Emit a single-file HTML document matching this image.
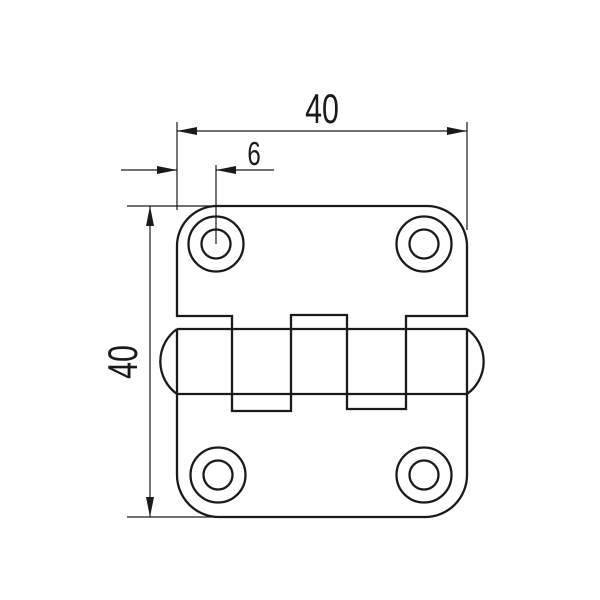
<!DOCTYPE html>
<html><head><meta charset="utf-8"><style>
html,body{margin:0;padding:0;background:#fff;width:600px;height:600px;overflow:hidden}
svg{display:block}
text{font-family:"Liberation Sans Narrow","Liberation Sans",sans-serif;fill:#1a1a1a}
</style></head><body>
<svg width="600" height="600" viewBox="0 0 600 600" xmlns="http://www.w3.org/2000/svg">
<defs>
<marker id="a" viewBox="0 0 20 8" refX="20" refY="4" markerWidth="20" markerHeight="8" markerUnits="userSpaceOnUse" orient="auto"><path d="M0,0 L20,4 L0,8 z" fill="#1a1a1a"/></marker>
</defs>
<g fill="none" stroke="#1a1a1a" stroke-width="2.3">
<path d="M177,316 L177,246 A40,40 0 0 1 217,206 L427,206 A40,40 0 0 1 467,246 L467,316 L406,316 L406,409 L347,409 L347,315 L291,315 L291,411 L232,411 L232,316 Z"/>
<path d="M177,329 L467,329 M177,394 L467,394"/>
<path d="M177,329 A40,40 0 0 0 177,394"/>
<path d="M467,329 A40,40 0 0 1 467,394"/>
<path d="M177,329 L177,475 A42,42 0 0 0 219,517 L425,517 A42,42 0 0 0 467,475 L467,329"/>
<circle cx="216" cy="244" r="27.5"/><circle cx="216" cy="244" r="14.5"/>
<circle cx="424" cy="244" r="27.5"/><circle cx="424" cy="244" r="14.5"/>
<circle cx="218" cy="475" r="27.5"/><circle cx="218" cy="475" r="14.5"/>
<circle cx="424" cy="475" r="27.5"/><circle cx="424" cy="475" r="14.5"/>
</g>
<g fill="none" stroke="#1a1a1a" stroke-width="1.2">
<path d="M177,122 L177,210 M467,122 L467,230 M216,165 L216,244 M127,206 L212,206 M127,517 L215,517"/>
<path d="M322,131 L177,131" marker-end="url(#a)"/>
<path d="M322,131 L467,131" marker-end="url(#a)"/>
<path d="M121,170 L177,170" marker-end="url(#a)"/>
<path d="M274,170 L216,170" marker-end="url(#a)"/>
<path d="M150,360 L150,206" marker-end="url(#a)"/>
<path d="M150,360 L150,517" marker-end="url(#a)"/>
</g>
<text transform="translate(322,123) scale(0.8,1.1)" font-size="38" text-anchor="middle">40</text>
<text transform="translate(254,165) scale(0.8,1.1)" font-size="30" text-anchor="middle">6</text>
<text transform="translate(137,362) rotate(-90) scale(0.8,1.1)" font-size="38" text-anchor="middle">40</text>
</svg>
</body></html>
